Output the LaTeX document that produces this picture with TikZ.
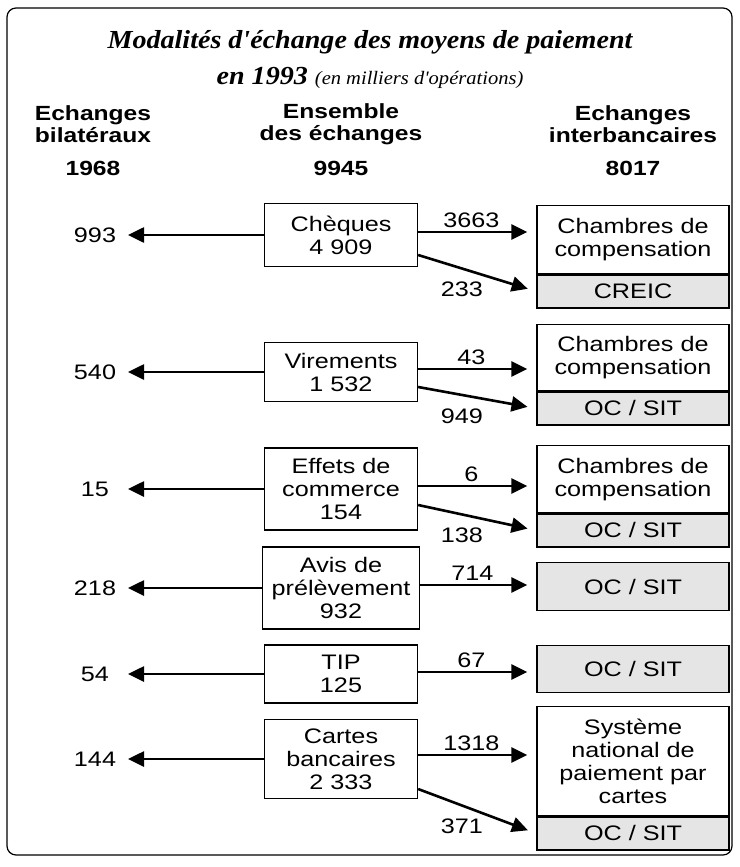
\documentclass[tikz,border=0pt]{standalone}
\usepackage{fontspec}
\setmainfont{Liberation Sans}[FakeStretch=1.2]
\newfontfamily\titlefont{Liberation Serif}[FakeStretch=1.08]
\usepackage{tikz}
\usetikzlibrary{arrows.meta,positioning}
\definecolor{stipple}{gray}{0.9}

\begin{document}
\begin{tikzpicture}[x=1pt,y=-1pt,
    every node/.style={font=\fontsize{21}{23}\selectfont},
    head/.style={align=center,font=\fontsize{20.5}{22.5}\selectfont\bfseries},
    midbox/.style={draw,line width=1.3pt,minimum width=153pt,align=center,inner sep=1pt},
    topbox/.style={draw,line width=1.3pt,minimum width=192pt,align=center,inner sep=1pt},
    subbox/.style={draw,line width=1.3pt,fill=stipple,minimum width=192pt,minimum height=33pt,inner sep=1pt},
    flow/.style={line width=2.6pt,-{Triangle[length=16pt,width=15pt]}},
    tocc/.style={flow,shorten >=9pt},
  ]
  \useasboundingbox (0,0) rectangle (739,867);
  \draw[line width=1.2pt,rounded corners=9pt] (7,8) rectangle (732,855);

  % title
  \node (t1) at (370,42) {\titlefont\fontsize{26}{28}\selectfont\bfseries\itshape Modalités d'échange des moyens de paiement};
  \node (t2) at (370,78) {\titlefont\fontsize{26}{28}\selectfont\bfseries\itshape en 1993 \mdseries\fontsize{19}{21}\selectfont(en milliers d'opérations)};

  % column heads
  \node[head] (hbil) at (93,124) {Echanges\\bilatéraux};
  \node[head] (hens) at (341,124) {Ensemble\\des échanges};
  \node[head] (hint) at (633,124) {Echanges\\interbancaires};
  \node[head] (nbil) at (93,168) {1968};
  \node[head] (nens) at (341,168) {9945};
  \node[head] (nint) at (633,168) {8017};

  % means of payment
  \node[midbox,minimum height=63pt] (chq) at (341,235) {Chèques\\4 909};
  \node[midbox,minimum height=59pt] (vir) at (341,372) {Virements\\1 532};
  \node[midbox,minimum height=82pt] (eff) at (341,489) {Effets de\\commerce\\154};
  \node[midbox,minimum height=82pt,minimum width=157pt] (avis) at (341,588) {Avis de\\prélèvement\\932};
  \node[midbox,minimum height=58pt] (tip) at (341,674) {TIP\\125};
  \node[midbox,minimum height=79pt] (cb) at (341,759) {Cartes\\bancaires\\2 333};

  % interbank systems
  \node[topbox,minimum height=68pt,anchor=north] (cc1) at (633,205) {Chambres de\\compensation};
  \node[subbox,below=0pt of cc1] (creic) {CREIC};
  \node[topbox,minimum height=66pt,anchor=north] (cc2) at (633,324) {Chambres de\\compensation};
  \node[subbox,below=0pt of cc2] (sit2) {OC / SIT};
  \node[topbox,minimum height=67pt,anchor=north] (cc3) at (633,445) {Chambres de\\compensation};
  \node[subbox,below=0pt of cc3] (sit3) {OC / SIT};
  \node[subbox,minimum height=48pt,anchor=north] (sit4) at (633,562) {OC / SIT};
  \node[subbox,minimum height=47pt,anchor=north] (sit5) at (633,645) {OC / SIT};
  \node[topbox,minimum height=109pt,anchor=north] (snpc) at (633,706) {Système\\national de\\paiement par\\cartes};
  \node[subbox,below=0pt of snpc] (sit6) {OC / SIT};

  % bilateral side
  \coordinate (ltip) at (128,0);
  \foreach \src/\val/\nm in {chq/993/b1,vir/540/b2,eff/15/b3,avis/218/b4,tip/54/b5,cb/144/b6} {
    \node (\nm) at (95,0 |- \src) {\val};
    \draw[flow] (\src.west) -- (\src.west -| ltip);
  }

  % interbank side
  \draw[tocc] ([yshift=3pt]chq.east) -- node[pos=0.45,above] {3663} ([yshift=3pt]chq.east -| cc1.west);
  \draw[tocc] ([yshift=-20pt]chq.east) -- node[pos=0.37,below=9pt] {233} (creic.west);
  \draw[tocc] ([yshift=3pt]vir.east) -- node[pos=0.45,above] {43} ([yshift=3pt]vir.east -| cc2.west);
  \draw[tocc] ([yshift=-15pt]vir.east) -- node[pos=0.37,below=9pt] {949} (sit2.west);
  \draw[tocc] ([yshift=3pt]eff.east) -- node[pos=0.45,above] {6} ([yshift=3pt]eff.east -| cc3.west);
  \draw[tocc] ([yshift=-16pt]eff.east) -- node[pos=0.37,below=9pt] {138} (sit3.west);
  \draw[tocc] ([yshift=3pt]avis.east) -- node[pos=0.45,above] {714} ([yshift=3pt]avis.east -| sit4.west);
  \draw[tocc] ([yshift=2pt]tip.east) -- node[pos=0.45,above] {67} ([yshift=2pt]tip.east -| sit5.west);
  \draw[tocc] ([yshift=4pt]cb.east) -- node[pos=0.45,above] {1318} ([yshift=4pt]cb.east -| snpc.west);
  \draw[tocc] ([yshift=-30pt]cb.east) -- node[pos=0.37,below=9pt] {371} (sit6.west);
\end{tikzpicture}
\end{document}
